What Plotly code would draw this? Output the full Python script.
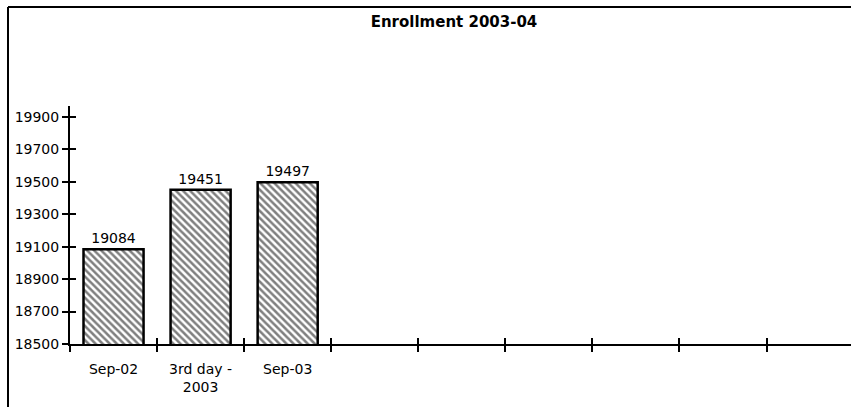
import plotly.graph_objects as go

# chart data
categories = ["Sep-02", "3rd day -<br>2003", "Sep-03"]
enrollment = [19084, 19451, 19497]
y_ticks = [18500, 18700, 18900, 19100, 19300, 19500, 19700, 19900]
y_tick_text = ["18500", "18700", "18900", "19100", "19300", "19500", "19700", "19900"]
n_slots = 9  # category slots drawn on the x axis

W, H = 851, 407
L, R, T, B = 70, 0, 106, 63
FONT = "DejaVu Sans"

positions = list(range(len(categories)))
boundaries = [i - 0.5 for i in range(n_slots)]
x_range = [-0.5, n_slots - 0.53]
y_range = [18500, 19968]

fig = go.Figure()

fig.add_trace(go.Bar(
    x=positions,
    y=enrollment,
    base=0,
    width=0.69,
    marker=dict(
        color="white",
        line=dict(color="black", width=2.5),
        pattern=dict(shape="\\", fgcolor="black", bgcolor="white",
                     size=5, solidity=0.5),
    ),
    text=[str(v) for v in enrollment],
    textposition="outside",
    textfont=dict(family=FONT, size=14, color="black"),
    cliponaxis=False,
    hoverinfo="skip",
))

# invisible trace so the overlay axes (inside halves of the crossing ticks) get drawn
fig.add_trace(go.Scatter(x=[boundaries[0]], y=[y_ticks[0]], xaxis="x2", yaxis="y2",
                         mode="markers", marker=dict(opacity=0), showlegend=False,
                         hoverinfo="skip"))

fig.update_layout(
    width=W, height=H,
    margin=dict(l=L, r=R, t=T, b=B, autoexpand=False),
    paper_bgcolor="white",
    plot_bgcolor="white",
    showlegend=False,
    title=dict(text="<b>Enrollment 2003-04</b>", x=454 / W, xref="container",
               y=1 - 22 / H, yref="container", xanchor="center", yanchor="middle",
               font=dict(family=FONT, size=15, color="black")),
    font=dict(family=FONT, size=14, color="black"),
    xaxis=dict(
        range=x_range, tickvals=positions, ticktext=categories,
        ticks="", showgrid=False, zeroline=False, automargin=False,
        showline=True, linecolor="black", linewidth=2,
        ticklabelstandoff=11,
        tickfont=dict(family=FONT, size=14, color="black"),
        minor=dict(tickvals=boundaries, ticks="outside", ticklen=6,
                   tickwidth=1.5, tickcolor="black", showgrid=False),
    ),
    xaxis2=dict(
        range=x_range, overlaying="x", side="bottom", anchor="y",
        tickvals=boundaries, ticks="inside", ticklen=6, tickwidth=1.5,
        tickcolor="black", showticklabels=False, showgrid=False,
        zeroline=False, showline=False, automargin=False,
    ),
    yaxis=dict(
        range=y_range, tickvals=y_ticks, ticktext=y_tick_text,
        ticks="outside", ticklen=6, automargin=False,
        tickwidth=1.5, tickcolor="black", showgrid=False, zeroline=False,
        showline=True, linecolor="black", linewidth=2,
        tickfont=dict(family=FONT, size=14, color="black"),
    ),
    yaxis2=dict(
        range=y_range, overlaying="y", side="left", anchor="x",
        tickvals=y_ticks, ticks="inside", ticklen=6, tickwidth=1.5,
        tickcolor="black", showticklabels=False, showgrid=False,
        zeroline=False, showline=False, automargin=False,
    ),
)

# chart frame (left and top edges)
pw, ph = W - L - R, H - T - B
fx = (8 - L) / pw
fy_top = 1 + (T - 7) / ph
fy_bot = -(B + 2) / ph
fig.add_shape(type="line", xref="paper", yref="paper", x0=fx, x1=fx,
              y0=fy_bot, y1=fy_top, line=dict(color="black", width=2))
fig.add_shape(type="line", xref="paper", yref="paper", x0=fx, x1=1.01,
              y0=fy_top, y1=fy_top, line=dict(color="black", width=2))

# drop the default page margin so the figure sits at the window's top-left corner
fig.write_html("out.html", config={"displayModeBar": False},
               post_script="document.body.style.margin='0';")
